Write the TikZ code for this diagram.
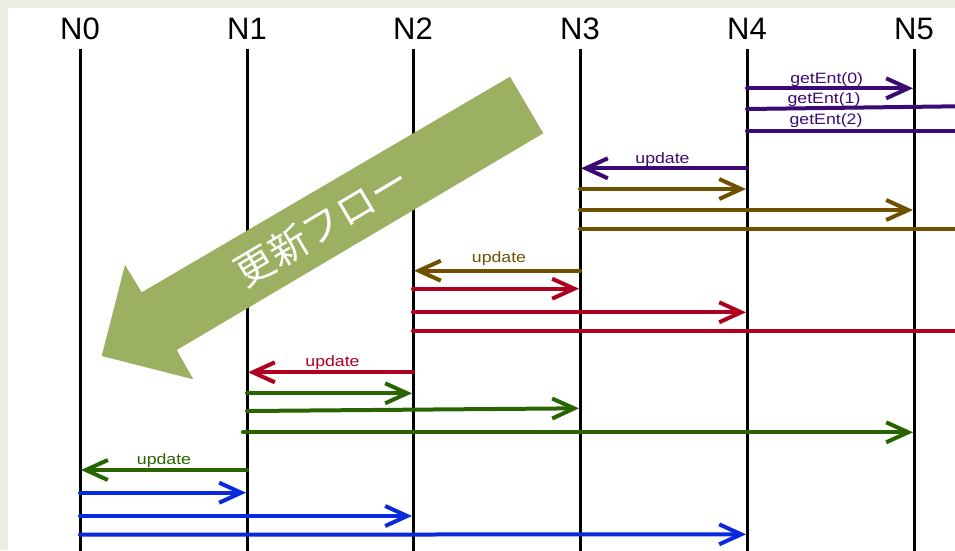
\documentclass[tikz,border=0pt]{standalone}
\usepackage{fontspec}
\setmainfont{Liberation Sans}
\newfontfamily\lblfont[FakeStretch=1.18]{Liberation Sans}
\newfontfamily\jpfont{Noto Sans CJK JP}
\usetikzlibrary{arrows.meta}
\definecolor{cBg}{RGB}{236,237,226}
\definecolor{cPur}{RGB}{60,10,115}
\definecolor{cBrn}{RGB}{110,80,0}
\definecolor{cRed}{RGB}{176,0,32}
\definecolor{cGrn}{RGB}{40,100,0}
\definecolor{cBlu}{RGB}{10,40,220}
\definecolor{cBig}{RGB}{155,176,96}
\begin{document}
\begin{tikzpicture}[x=1pt,y=-1pt,
  life/.style={line width=3pt,draw=black},
  msgline/.style={line width=4pt,line cap=round,draw=#1},
  msg/.style={msgline=#1,shorten >=1pt,-{Straight Barb[length=22pt,width=20pt]}},
  lbl/.style={font=\lblfont\fontsize{15}{15}\selectfont,text=#1,anchor=base,inner sep=0pt},
  head/.style={font=\fontsize{31}{31}\selectfont,anchor=base,inner sep=0pt}]
\useasboundingbox (0,0) rectangle (955,550);
\clip (0,0) rectangle (955,550);
\fill[cBg] (0,0) rectangle (955,550);
\fill[white] (8,8) rectangle (960,560);
% lifelines
\foreach \i/\x in {0/80,1/247,2/413,3/580,4/747,5/914}{
  \node[head] (h\i) at (\x,39) {N\i};
  \coordinate (l\i) at (\x,0);
  \draw[life] (\x,49) -- (\x,552);
}
\coordinate (l6) at (1081,0);
% big arrow
\fill[cBig] (510,76.7) -- (543.3,133.3) -- (176.7,350) -- (193.3,379.3) -- (101.7,356) -- (125,265) -- (141.7,292.3) -- cycle;
\node[text=white,rotate=30.7,font=\jpfont\fontsize{39}{39}\selectfont,inner sep=0pt] (flow) at (322,226) {更新フロー};
% purple
\draw[msg=cPur] (l4 |- 0,88.3) -- (l5 |- 0,88.3);
\draw[msgline=cPur] (l4 |- 0,109) -- (l6 |- 0,104.7);
\draw[msgline=cPur] (l4 |- 0,130.7) -- (l6 |- 0,130.7);
\draw[msg=cPur] (l4 |- 0,168.3) -- (l3 |- 0,168.3);
\node[lbl=cPur] (g0) at (826.7,83.3) {getEnt(0)};
\node[lbl=cPur] (g1) at (824,103.3) {getEnt(1)};
\node[lbl=cPur] (g2) at (826,124) {getEnt(2)};
\node[lbl=cPur] (u4) at (662.5,163) {update};
% brown
\draw[msg=cBrn] (l3 |- 0,189) -- (l4 |- 0,189);
\draw[msg=cBrn] (l3 |- 0,210) -- (l5 |- 0,210);
\draw[msgline=cBrn] (l3 |- 0,228.5) -- (l6 |- 0,228.5);
\draw[msg=cBrn] (l3 |- 0,270.7) -- (l2 |- 0,270.7);
\node[lbl=cBrn] (u3) at (499,262) {update};
% red
\draw[msg=cRed] (l2 |- 0,288.7) -- (l3 |- 0,288.7);
\draw[msg=cRed] (l2 |- 0,312.3) -- (l4 |- 0,312.3);
\draw[msgline=cRed] (l2 |- 0,330.7) -- (l6 |- 0,330.7);
\draw[msg=cRed] (l2 |- 0,372.3) -- (l1 |- 0,372.3);
\node[lbl=cRed] (u2) at (332.5,366) {update};
% green
\draw[msg=cGrn] (l1 |- 0,393.3) -- (l2 |- 0,393.3);
\draw[msg=cGrn] (l1 |- 0,411) -- (l3 |- 0,408.3);
\draw[msg=cGrn] (243,432.3) -- (l5 |- 0,432.3);
\draw[msg=cGrn] (l1 |- 0,470) -- (l0 |- 0,470);
\node[lbl=cGrn] (u1) at (164,464) {update};
% blue
\draw[msg=cBlu] (l0 |- 0,492.7) -- (l1 |- 0,492.7);
\draw[msg=cBlu] (l0 |- 0,516) -- (l2 |- 0,516);
\draw[msg=cBlu] (l0 |- 0,534.7) -- (l4 |- 0,534.3);
\end{tikzpicture}
\end{document}
